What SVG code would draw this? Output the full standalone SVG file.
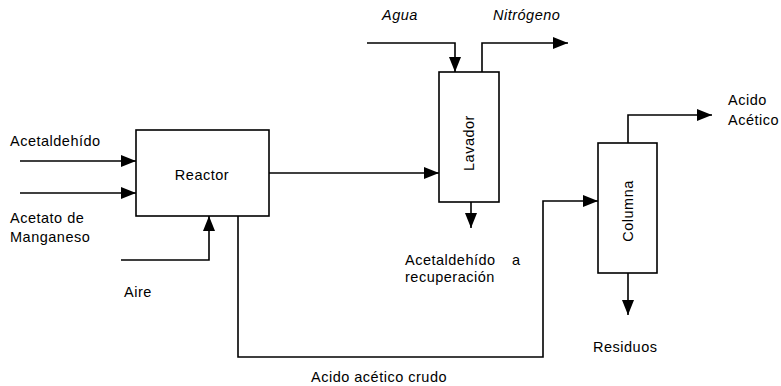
<svg xmlns="http://www.w3.org/2000/svg" width="781" height="386" viewBox="0 0 781 386">
<defs>
<marker id="ah" viewBox="0 0 15 12" refX="15" refY="6" markerWidth="15" markerHeight="12" markerUnits="userSpaceOnUse" orient="auto">
<path d="M0,0 L15,6 L0,12 Z" fill="#000"/>
</marker>
</defs>
<style>
.box{fill:#fff;stroke:#000;stroke-width:1.6}
.ln{fill:none;stroke:#000;stroke-width:1.6;marker-end:url(#ah)}
text{font-family:"Liberation Sans",Arial,sans-serif;font-size:14.5px;letter-spacing:0.5px;fill:#000}
.it{font-style:italic}
</style>
<rect width="781" height="386" fill="#fff"/>
<g id="connectors">
<path class="ln" d="M20,161 H136"/>
<path class="ln" d="M20,193 H136"/>
<path class="ln" d="M121,260 H209 V216"/>
<path class="ln" d="M269,173 H439"/>
<path class="ln" d="M367,43 H455 V72"/>
<path class="ln" d="M482,72 V43 H568"/>
<path class="ln" d="M471,202 V228"/>
<path class="ln" d="M238,216 V357 H543 V201 H598"/>
<path class="ln" d="M628,143 V115 H712"/>
<path class="ln" d="M628,273 V315"/>
</g>
<g id="reactor">
<rect class="box" x="136" y="130" width="133" height="86"/>
<text x="202" y="180" text-anchor="middle">Reactor</text>
</g>
<g id="lavador">
<rect class="box" x="439" y="72" width="60" height="130"/>
<text transform="translate(474,143) rotate(-90)" text-anchor="middle">Lavador</text>
</g>
<g id="columna">
<rect class="box" x="598" y="143" width="59" height="130"/>
<text transform="translate(633,211) rotate(-90)" text-anchor="middle">Columna</text>
</g>
<g id="labels">
<text x="10" y="146">Acetaldehído</text>
<text x="10" y="223">Acetato de</text>
<text x="10" y="242">Manganeso</text>
<text x="124" y="297">Aire</text>
<text class="it" x="382" y="20">Agua</text>
<text class="it" x="493" y="20">Nitrógeno</text>
<text x="405" y="265">Acetaldehído</text>
<text x="512" y="265">a</text>
<text x="405" y="282">recuperación</text>
<text x="311" y="382">Acido acético crudo</text>
<text x="728" y="105">Acido</text>
<text x="728" y="125">Acético</text>
<text x="593" y="352">Residuos</text>
</g>
</svg>
